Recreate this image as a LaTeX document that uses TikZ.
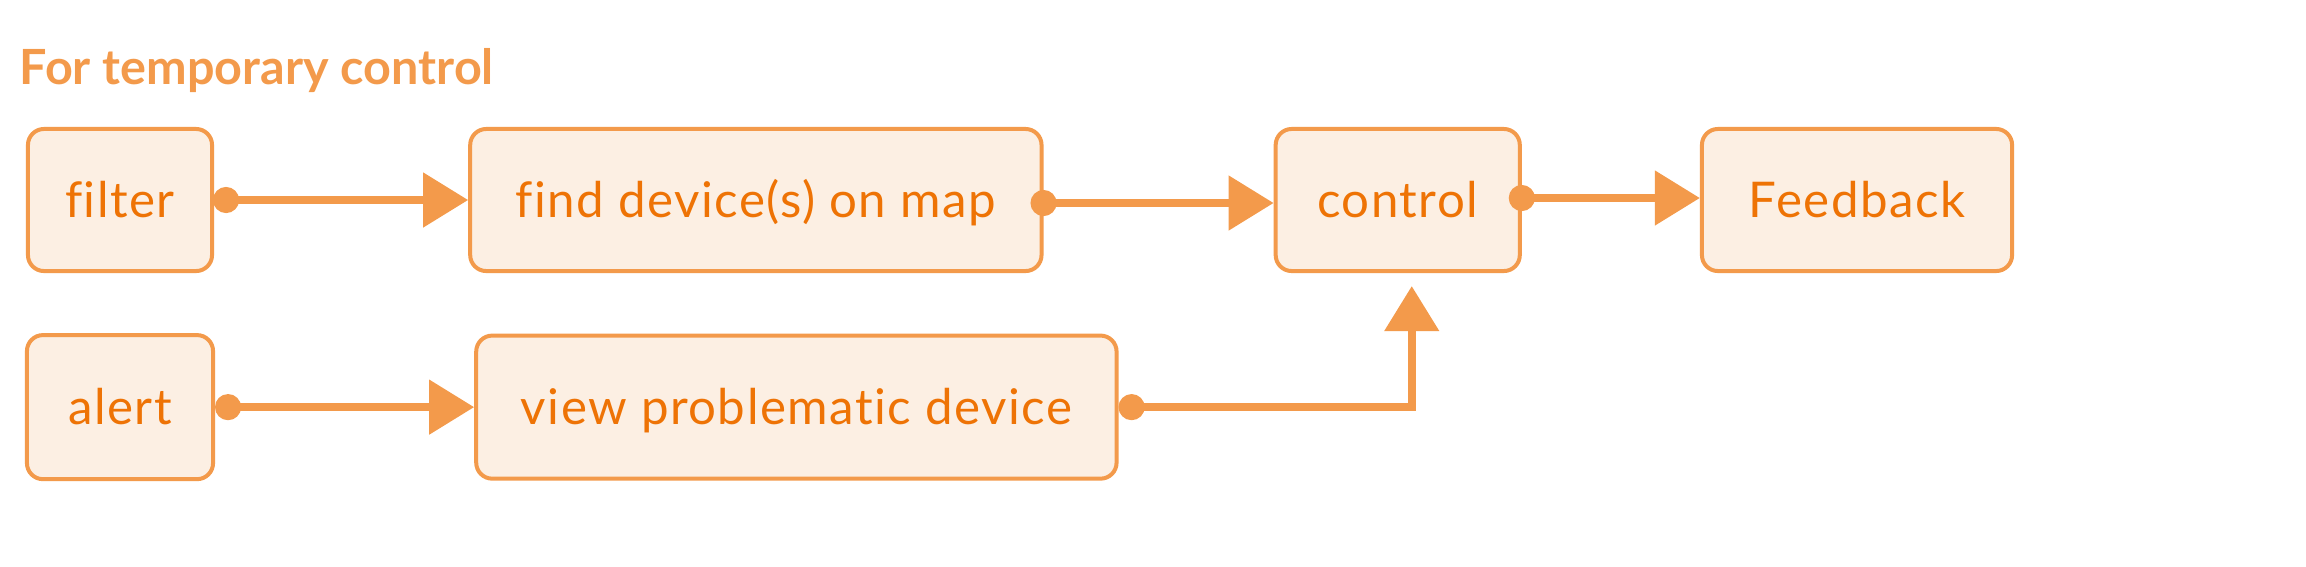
\documentclass[tikz,border=0pt]{standalone}
\usepackage{fontspec}
\setmainfont{Lato}
\usetikzlibrary{arrows.meta, positioning}
\definecolor{boxorange}{HTML}{F39A4B}
\definecolor{boxfill}{HTML}{FCEFE3}
\definecolor{textorange}{HTML}{EE7305}
\tikzset{
	fbox/.style={draw=boxorange, fill=boxfill, rounded corners=0.16cm, line width=0.04cm,
		minimum height=1.42cm, text=textorange,
		font=\fontsize{14}{16}\selectfont\addfontfeatures{LetterSpace=3, Ligatures=NoCommon},
		text height=0.35cm, text depth=0pt, inner sep=0pt},
	farr/.style={line width=0.08cm, draw=boxorange,
		{Circle[length=0.26cm]}-{Triangle[length=0.45cm, width=0.53cm]}}
}

\begin{document}
\begin{tikzpicture}[x=0.01cm, y=-0.01cm]
	\useasboundingbox (0,0) rectangle (2306,566);
	\node[anchor=base west, inner sep=0pt, text=boxorange,
		font=\fontsize{13.8}{16}\selectfont\bfseries] (title) at (19,84) {For temporary control};
	\node[fbox, minimum width=1.84cm] (filter) at (120,200) {filter};
	\node[fbox, minimum width=5.71cm, right=2.54cm of filter] (find) {find device(s) on map};
	\node[fbox, minimum width=2.44cm, right=2.30cm of find] (control) {control};
	\node[fbox, minimum width=3.10cm, right=1.78cm of control] (feedback) {Feedback};
	\node[fbox, minimum width=1.86cm, minimum height=1.44cm, below=0.60cm of filter] (alert) {alert};
	\node[fbox, minimum width=6.40cm, minimum height=1.43cm, right=2.59cm of alert] (view) {view problematic device};
	\draw[farr, shorten <=-0.01cm] (filter) -- (find);
	\draw[farr, shorten <=-0.13cm] ([yshift=-0.03cm]find.east) -- ([yshift=-0.03cm]control.west);
	\draw[farr, shorten <=-0.13cm] ([yshift=0.02cm]control.east) -- ([yshift=0.02cm]feedback.west);
	\draw[farr] (alert) -- (view);
	\draw[farr] (view) -| ([xshift=0.14cm, yshift=-0.13cm]control.south);
\end{tikzpicture}
\end{document}
